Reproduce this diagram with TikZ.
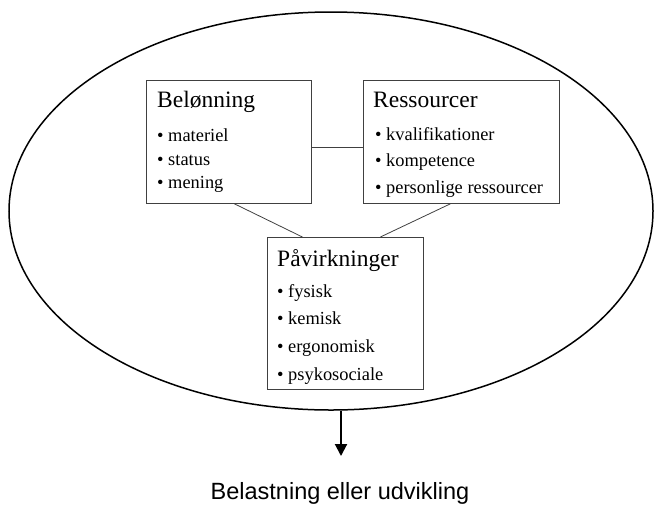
\documentclass[tikz,border=0pt]{standalone}
\usepackage{fontspec}
\setmainfont{Liberation Serif}
\setsansfont{Liberation Sans}
\usetikzlibrary{
  arrows.meta,
  positioning,
  shapes.geometric
}
\tikzset{
  field/.style={draw, ellipse, line width=1.5pt, inner sep=0pt,
    minimum width=644pt, minimum height=398pt},
  factorbox/.style={draw=black!75, line width=0.8pt, anchor=north west,
    inner sep=0pt},
  boxtitle/.style={anchor=base west, inner sep=0pt,
    font=\fontsize{23.5}{28}\selectfont},
  boxitem/.style={anchor=base west, inner sep=0pt,
    font=\fontsize{18.4}{22}\selectfont},
  link/.style={draw=black!75, line width=0.8pt},
  arr/.style={-{Triangle[length=12pt, width=12pt]}, line width=2pt},
  result/.style={anchor=base, inner sep=0pt,
    font=\sffamily\fontsize{23.5}{28}\selectfont},
}

\begin{document}
\begin{tikzpicture}[x=1pt, y=-1pt]
  \useasboundingbox (0,0) rectangle (655,504);

  % Outer field
  \node[field] (field) at (331,211) {};

  % Boxes
  \node[factorbox, minimum width=165pt, minimum height=123pt] (bel) at (146,80) {};
  \node[factorbox, minimum width=196pt, minimum height=123pt] (res) at (363,80) {};
  \node[factorbox, minimum width=156pt, minimum height=152pt] (pav) at (267,237) {};

  % Box texts
  \node[boxtitle] (bel-title) at ([shift={(11pt,-27pt)}]bel.north west) {Belønning};
  \foreach \txt [count=\i] in {materiel, status, mening}
    \node[boxitem] (bel-\i) at ([shift={(11pt,{-61.5pt-23.5pt*(\i-1)})}]bel.north west)
      {\textbullet\ \txt};

  \node[boxtitle] (res-title) at ([shift={(10pt,-27pt)}]res.north west) {Ressourcer};
  \foreach \txt [count=\i] in {kvalifikationer, kompetence, personlige ressourcer}
    \node[boxitem] (res-\i) at ([shift={(12pt,{-60pt-26.5pt*(\i-1)})}]res.north west)
      {\textbullet\ \txt};

  \node[boxtitle] (pav-title) at ([shift={(10pt,-29pt)}]pav.north west) {Påvirkninger};
  \foreach \txt [count=\i] in {fysisk, kemisk, ergonomisk, psykosociale}
    \node[boxitem] (pav-\i) at ([shift={(10pt,{-60pt-27.7pt*(\i-1)})}]pav.north west)
      {\textbullet\ \txt};

  % Connectors
  \draw[link] ([yshift=-5.5pt]bel.east) -- ([yshift=-5.5pt]res.west);
  \draw[link] ([xshift=5.5pt]bel.south) -- ([xshift=-43pt]pav.north);
  \draw[link] ([xshift=-11pt]res.south) -- ([xshift=35pt]pav.north);

  % Outcome
  \node[result] (result) at (340,499) {Belastning eller udvikling};
  \coordinate (tip) at (341,456);
  \draw[arr] ([xshift=10pt]field.south) -- (tip);
\end{tikzpicture}
\end{document}
